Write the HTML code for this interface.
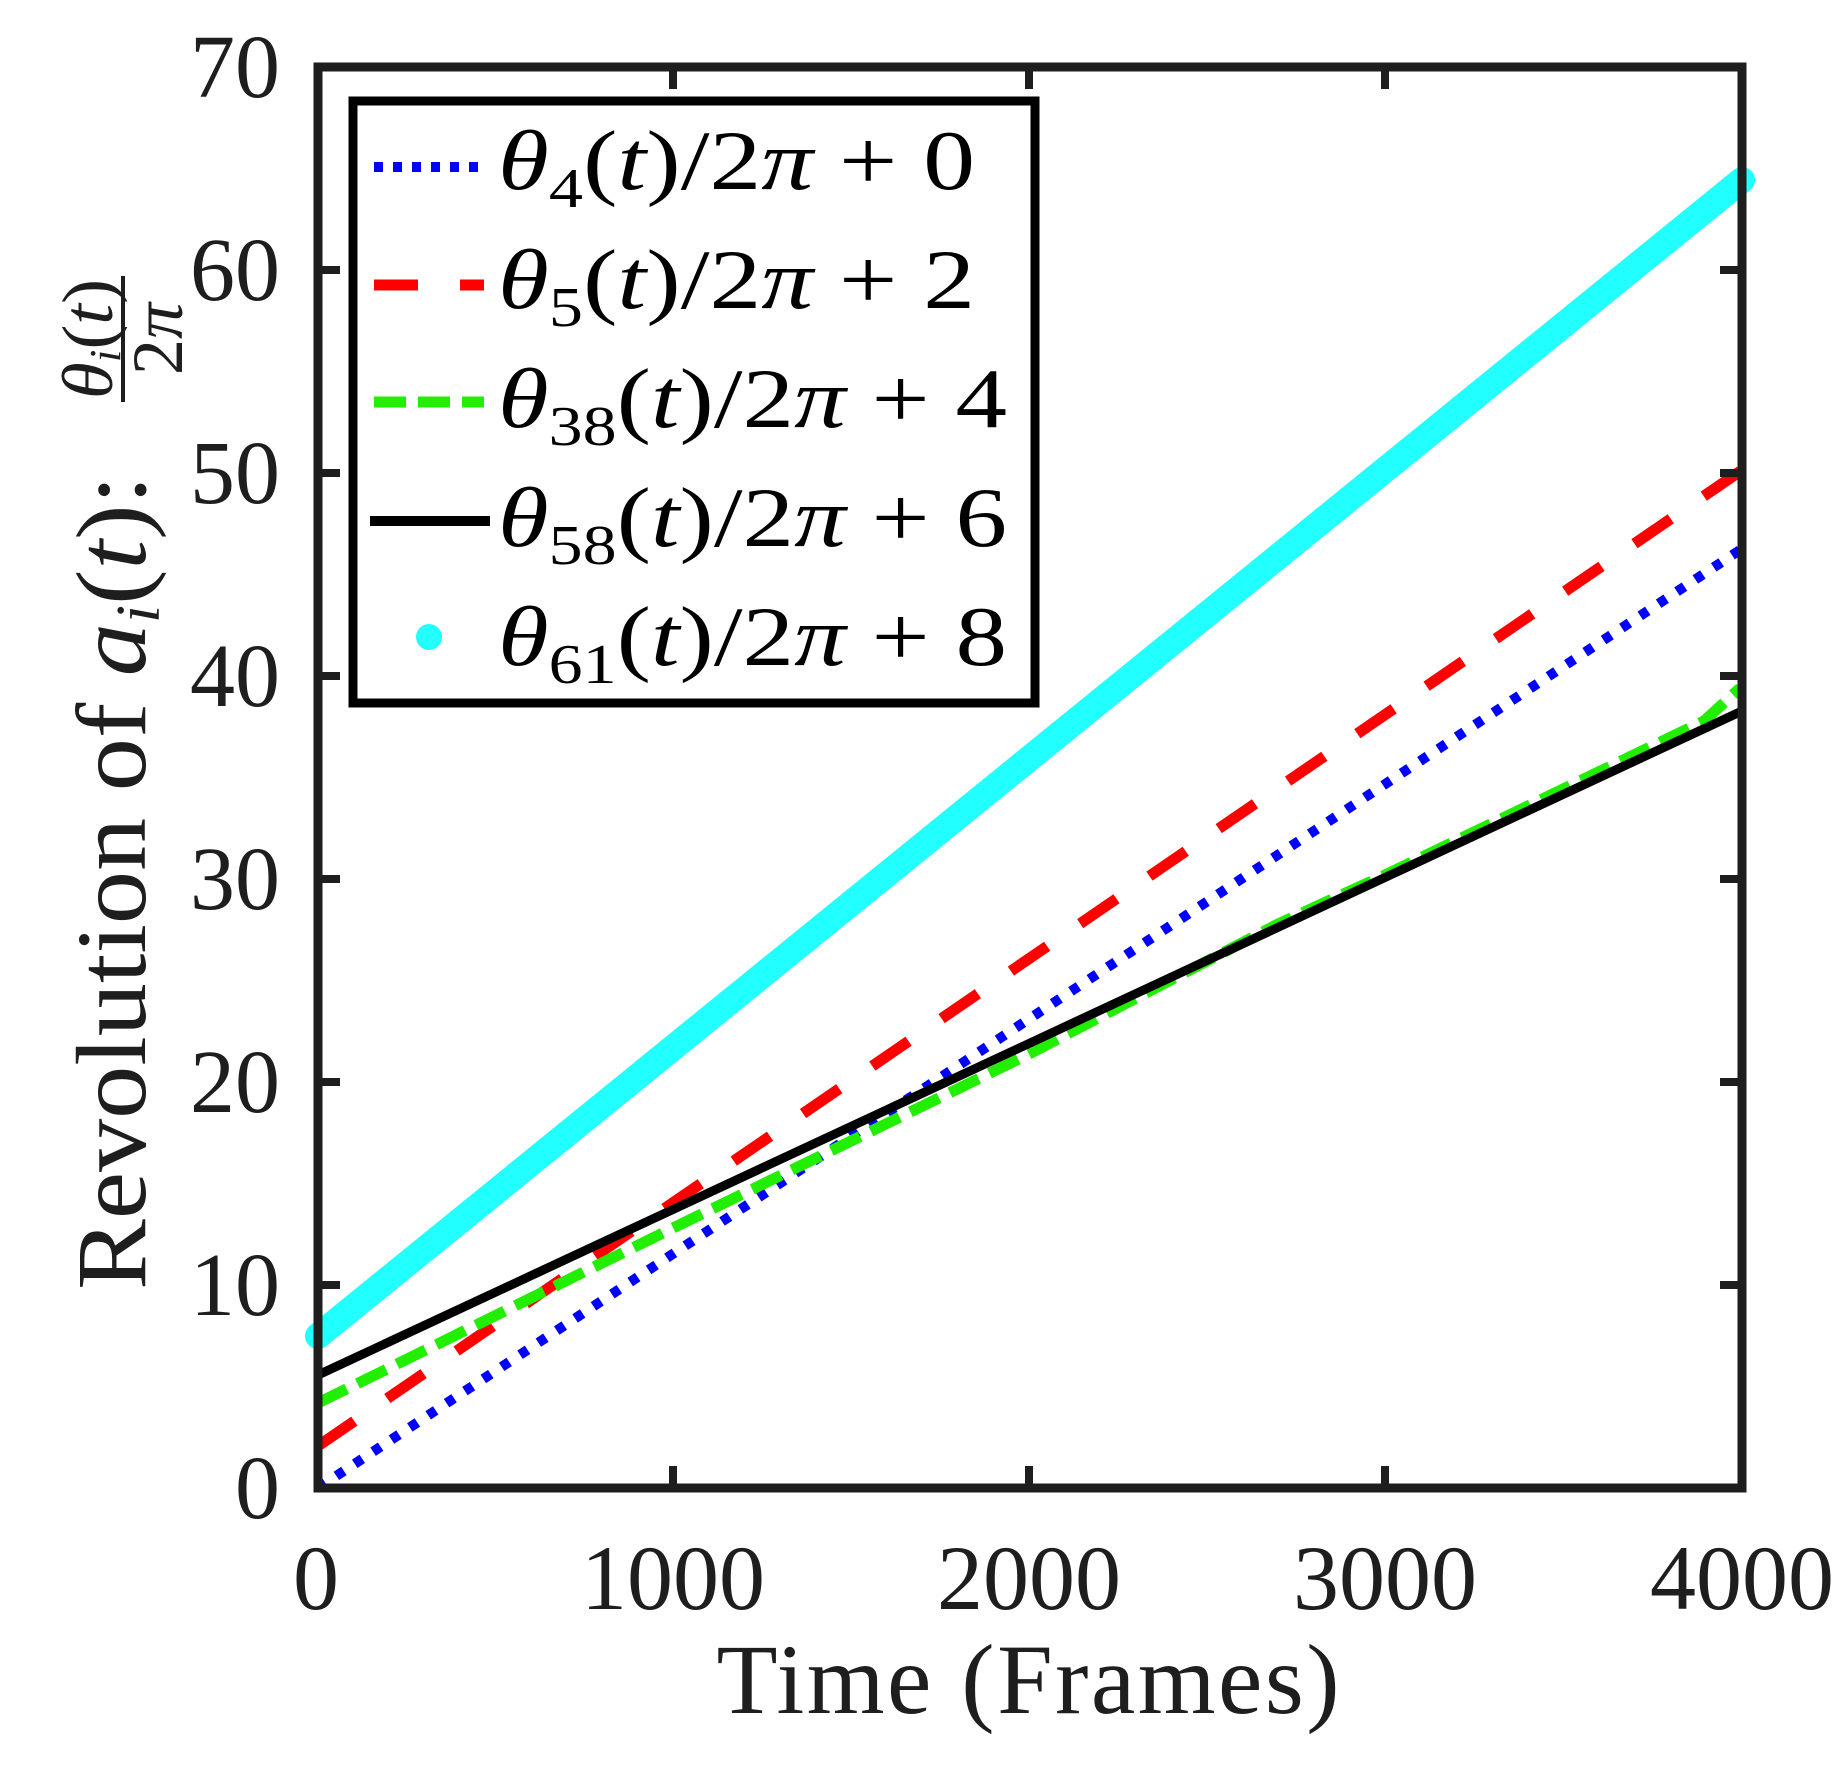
<!DOCTYPE html>
<html><head><meta charset="utf-8"><style>
html,body{margin:0;padding:0;background:#fff;}
svg{display:block;}
text{font-family:"Liberation Serif","DejaVu Serif",serif;fill:#1e1e1e;}
</style></head><body>
<svg width="1842" height="1770" viewBox="0 0 1842 1770" xmlns="http://www.w3.org/2000/svg" font-family="Liberation Serif, DejaVu Serif, serif">
<rect width="1842" height="1770" fill="#fff"/>
<g fill="none" stroke-linejoin="round">
<line x1="318" y1="1336" x2="1742" y2="180" stroke="#22ffff" stroke-width="26" stroke-linecap="round"/>
<line x1="318" y1="1488" x2="1740" y2="550" stroke="#0000ff" stroke-width="10" stroke-dasharray="9 13"/>
<line x1="318" y1="1446" x2="1742" y2="470" stroke="#ff0000" stroke-width="11" stroke-dasharray="44 40"/>
<polyline points="318,1403 673,1228 1029,1054 1278,924 1385,875 1704,721 1740,688" stroke="#22ee00" stroke-width="11" stroke-dasharray="32 12"/>
<line x1="318" y1="1375" x2="1742" y2="711" stroke="#000" stroke-width="9"/>
</g>
<rect x="318" y="67" width="1424" height="1421" fill="none" stroke="#1e1e1e" stroke-width="9"/>
<g stroke="#1e1e1e" stroke-width="8">
<line x1="673" y1="1488" x2="673" y2="1466"/><line x1="1029" y1="1488" x2="1029" y2="1466"/><line x1="1385" y1="1488" x2="1385" y2="1466"/>
<line x1="673" y1="67" x2="673" y2="89"/><line x1="1029" y1="67" x2="1029" y2="89"/><line x1="1385" y1="67" x2="1385" y2="89"/>
<line x1="318" y1="1285" x2="340" y2="1285"/><line x1="318" y1="1082" x2="340" y2="1082"/><line x1="318" y1="879" x2="340" y2="879"/><line x1="318" y1="676" x2="340" y2="676"/><line x1="318" y1="473" x2="340" y2="473"/><line x1="318" y1="270" x2="340" y2="270"/>
<line x1="1742" y1="1285" x2="1720" y2="1285"/><line x1="1742" y1="1082" x2="1720" y2="1082"/><line x1="1742" y1="879" x2="1720" y2="879"/><line x1="1742" y1="676" x2="1720" y2="676"/><line x1="1742" y1="473" x2="1720" y2="473"/><line x1="1742" y1="270" x2="1720" y2="270"/>
</g>
<g font-size="90" text-anchor="end">
<text x="280" y="1518">0</text><text x="280" y="1315">10</text><text x="280" y="1112">20</text><text x="280" y="909">30</text><text x="280" y="706">40</text><text x="280" y="503">50</text><text x="280" y="300">60</text><text x="280" y="97">70</text>
</g>
<g font-size="92" text-anchor="middle">
<text x="316" y="1609">0</text><text x="673" y="1609">1000</text><text x="1029" y="1609">2000</text><text x="1385" y="1609">3000</text><text x="1742" y="1609">4000</text>
</g>
<text x="1028" y="1713" font-size="100" text-anchor="middle" textLength="623">Time (Frames)</text>
<text transform="translate(145,1290) rotate(-90)" font-size="100" textLength="815" lengthAdjust="spacingAndGlyphs">Revolution of <tspan font-style="italic">a</tspan><tspan font-size="62" font-style="italic" dy="14">i</tspan><tspan dy="-14">(</tspan><tspan font-style="italic">t</tspan>):</text>
<line x1="123" y1="276" x2="123" y2="402" stroke="#1e1e1e" stroke-width="4"/>
<text transform="translate(112,339) rotate(-90)" font-size="72" text-anchor="middle" textLength="120" lengthAdjust="spacingAndGlyphs"><tspan font-style="italic">θ</tspan><tspan font-size="44" font-style="italic" dy="8">i</tspan><tspan dy="-8">(</tspan><tspan font-style="italic">t</tspan>)</text>
<text transform="translate(182,339) rotate(-90)" font-size="72" text-anchor="middle">2<tspan font-style="italic">π</tspan></text>
<rect x="353" y="101" width="682" height="602" fill="#fff" stroke="#000" stroke-width="9"/>
<line x1="374" y1="167" x2="484" y2="167" stroke="#0000ff" stroke-width="10" stroke-dasharray="9 10"/>
<line x1="374" y1="285" x2="484" y2="285" stroke="#ff0000" stroke-width="11" stroke-dasharray="44 42"/>
<line x1="374" y1="402" x2="484" y2="402" stroke="#22ee00" stroke-width="11" stroke-dasharray="32 12"/>
<line x1="370" y1="521" x2="490" y2="521" stroke="#000" stroke-width="10"/>
<circle cx="429" cy="637" r="13" fill="#22ffff"/>
<g font-size="85">
<text x="498" y="189" style="fill:#000" textLength="477" lengthAdjust="spacingAndGlyphs"><tspan font-style="italic">θ</tspan><tspan font-size="56" dy="18">4</tspan><tspan dy="-18">(</tspan><tspan font-style="italic">t</tspan>)/2<tspan font-style="italic">π</tspan> + 0</text>
<text x="498" y="308" style="fill:#000" textLength="477" lengthAdjust="spacingAndGlyphs"><tspan font-style="italic">θ</tspan><tspan font-size="56" dy="18">5</tspan><tspan dy="-18">(</tspan><tspan font-style="italic">t</tspan>)/2<tspan font-style="italic">π</tspan> + 2</text>
<text x="498" y="427" style="fill:#000" textLength="509" lengthAdjust="spacingAndGlyphs"><tspan font-style="italic">θ</tspan><tspan font-size="56" dy="18">38</tspan><tspan dy="-18">(</tspan><tspan font-style="italic">t</tspan>)/2<tspan font-style="italic">π</tspan> + 4</text>
<text x="498" y="546" style="fill:#000" textLength="509" lengthAdjust="spacingAndGlyphs"><tspan font-style="italic">θ</tspan><tspan font-size="56" dy="18">58</tspan><tspan dy="-18">(</tspan><tspan font-style="italic">t</tspan>)/2<tspan font-style="italic">π</tspan> + 6</text>
<text x="498" y="665" style="fill:#000" textLength="509" lengthAdjust="spacingAndGlyphs"><tspan font-style="italic">θ</tspan><tspan font-size="56" dy="18">61</tspan><tspan dy="-18">(</tspan><tspan font-style="italic">t</tspan>)/2<tspan font-style="italic">π</tspan> + 8</text>
</g>
</svg>
</body></html>
